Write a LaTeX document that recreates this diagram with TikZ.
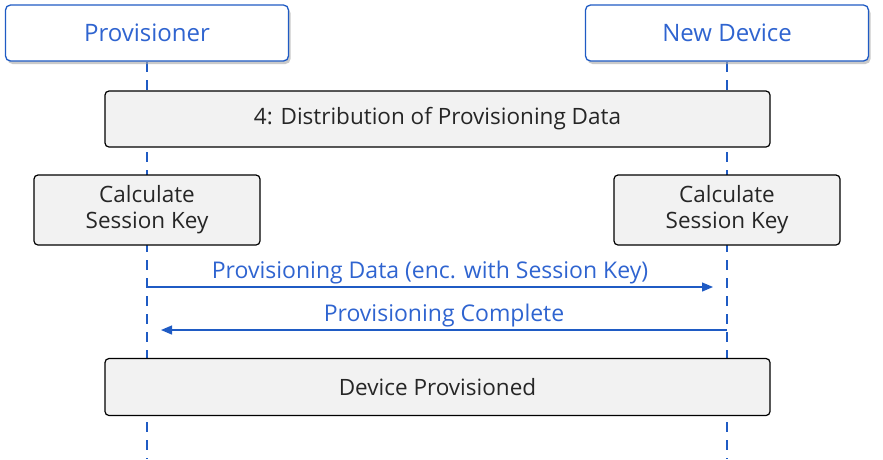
\documentclass[tikz,border=0pt]{standalone}
\usepackage{fontspec}
\setmainfont{Open Sans}
\usetikzlibrary{shadows,arrows.meta}
\definecolor{mblue}{HTML}{1F5BC4}
\definecolor{tblue}{HTML}{2F64D0}
\definecolor{boxgray}{HTML}{F2F2F2}
\tikzset{
  actor/.style={draw=mblue, line width=1.3pt, fill=white, rounded corners=5pt,
    minimum width=283pt, minimum height=56pt, font=\fontsize{24}{27}\selectfont, text=tblue,
    drop shadow={shadow xshift=2pt, shadow yshift=-3pt, fill=black!35, opacity=.6}},
  note/.style={draw=black, line width=1.2pt, fill=boxgray, rounded corners=4pt,
    font=\fontsize{22.5}{26}\selectfont, text=black!85, align=center, inner sep=0pt},
  life/.style={draw=mblue, line width=1.2pt, dash pattern=on 10pt off 8pt},
  msg/.style={draw=mblue, line width=1.3pt, -{Triangle[length=11pt,width=9pt]}},
  lbl/.style={font=\fontsize{23}{25}\selectfont, text=tblue, inner sep=1pt}
}
\begin{document}
\begin{tikzpicture}[x=1pt,y=-1pt]
\useasboundingbox (0,0) rectangle (883,459);
\coordinate (l1top) at (147,62);
\coordinate (l1bot) at (147,459);
\coordinate (l2top) at (727,62);
\coordinate (l2bot) at (727,459);
\draw[life] (l1top) -- (l1bot);
\draw[life] (l2top) -- (l2bot);
\node[actor] (prov) at (147,33) {Provisioner};
\node[actor] (dev) at (727,33) {New Device};
\node[note, minimum width=665pt, minimum height=56pt] (dist) at (437.5,119) {4: Distribution of Provisioning Data};
\node[note, minimum width=226pt, minimum height=70pt] (calc1) at (147,210) {Calculate\\Session Key};
\node[note, minimum width=226pt, minimum height=70pt] (calc2) at (727,210) {Calculate\\Session Key};
\coordinate (a1s) at (147,287);
\coordinate (a1e) at (713,287);
\coordinate (a2s) at (727,330);
\coordinate (a2e) at (161,330);
\draw[msg] (a1s) -- node[lbl, above=1pt] (m1) {Provisioning Data (enc. with Session Key)} (a1e);
\draw[msg] (a2s) -- node[lbl, above=1pt] (m2) {Provisioning Complete} (a2e);
\node[note, minimum width=665pt, minimum height=57pt] (done) at (437.5,387) {Device Provisioned};
\end{tikzpicture}
\end{document}
